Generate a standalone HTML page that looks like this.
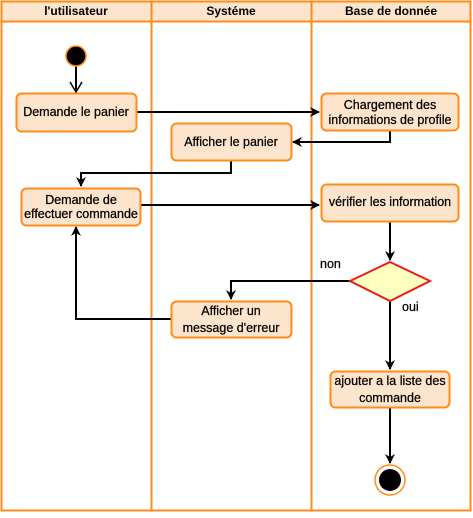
<!DOCTYPE html>
<html><head><meta charset="utf-8"><style>
body{margin:0;background:#fff}
svg text{font-family:"Liberation Sans",Helvetica,Arial,sans-serif;font-size:12.5px;fill:#000;stroke:#000;stroke-width:0.25px}
</style></head><body>
<svg width="473" height="513" viewBox="0 0 473 513" xmlns="http://www.w3.org/2000/svg">
<defs><marker id="a" markerWidth="10" markerHeight="10" refX="9" refY="5" orient="auto" markerUnits="userSpaceOnUse"><path d="M0,0 L10,5 L0,10 L3,5 Z" fill="#000"/></marker></defs>
<rect x="1.5" y="1.5" width="469" height="509" fill="#fff" stroke="#ff8c1a" stroke-width="2"/>
<rect x="1.5" y="1.5" width="469" height="20" fill="#fde4cc" stroke="#ff8c1a" stroke-width="2"/>
<line x1="151.5" y1="1" x2="151.5" y2="511" stroke="#ff8c1a" stroke-width="2"/>
<line x1="311.5" y1="1" x2="311.5" y2="511" stroke="#ff8c1a" stroke-width="2"/>
<g text-anchor="middle">
<text x="76" y="15" style="font-weight:bold;font-size:12px;stroke-width:0">l'utilisateur</text>
<text x="231" y="15" style="font-weight:bold;font-size:12px;stroke-width:0">Systéme</text>
<text x="391" y="15" style="font-weight:bold;font-size:12px;stroke-width:0">Base de donnée</text>
</g>
<g stroke="#000" stroke-width="2" fill="none">
<line x1="76" y1="66" x2="76" y2="91"/>
<path d="M136,112 H319" marker-end="url(#a)"/>
<path d="M390,130 V142 H293" marker-end="url(#a)"/>
<path d="M231,160 V173 H81 V186" marker-end="url(#a)"/>
<path d="M140,205 H319" marker-end="url(#a)"/>
<path d="M390,221 V260" marker-end="url(#a)"/>
<path d="M350,281 H231 V299" marker-end="url(#a)"/>
<path d="M171,319 H76 V227" marker-end="url(#a)"/>
<path d="M390,301 V369" marker-end="url(#a)"/>
<path d="M390,407 V463" marker-end="url(#a)"/>
</g>
<path d="M70,82 L76,92 L82,82" fill="none" stroke="#000" stroke-width="1.5"/>
<circle cx="76" cy="56" r="10" fill="#000" stroke="#ff8c1a" stroke-width="1.5"/>
<g fill="#fde4cc" stroke="#ff8c1a" stroke-width="2">
<rect x="16.5" y="93.5" width="120" height="38" rx="5"/>
<rect x="321.5" y="93.5" width="137" height="37" rx="5"/>
<rect x="171.5" y="123.5" width="120" height="37" rx="5"/>
<rect x="21.5" y="188.5" width="119" height="37" rx="5"/>
<rect x="321.5" y="184.5" width="137" height="37" rx="5"/>
<rect x="171.5" y="301.5" width="120" height="36" rx="5"/>
<rect x="330.5" y="371.5" width="119" height="36" rx="5"/>
</g>
<polygon points="390,262 430,281 390,301 350,281" fill="#ffffc0" stroke="#e81c1c" stroke-width="2"/>
<circle cx="390" cy="480" r="15" fill="#fff" stroke="#ff8c1a" stroke-width="1.5"/>
<circle cx="390" cy="480" r="11" fill="#000"/>
<g text-anchor="middle">
<text x="76" y="116">Demande le panier</text>
<text x="390" y="109">Chargement des</text>
<text x="390" y="124">informations de profile</text>
<text x="231" y="146">Afficher le panier</text>
<text x="81" y="204">Demande de</text>
<text x="81" y="218">effectuer commande</text>
<text x="390" y="206">vérifier les information</text>
<text x="231" y="315">Afficher un</text>
<text x="231" y="332">message d'erreur</text>
<text x="390" y="385">ajouter a la liste des</text>
<text x="390" y="402">commande</text>
</g>
<text x="320" y="268">non</text>
<text x="402" y="311">oui</text>
</svg>
</body></html>
